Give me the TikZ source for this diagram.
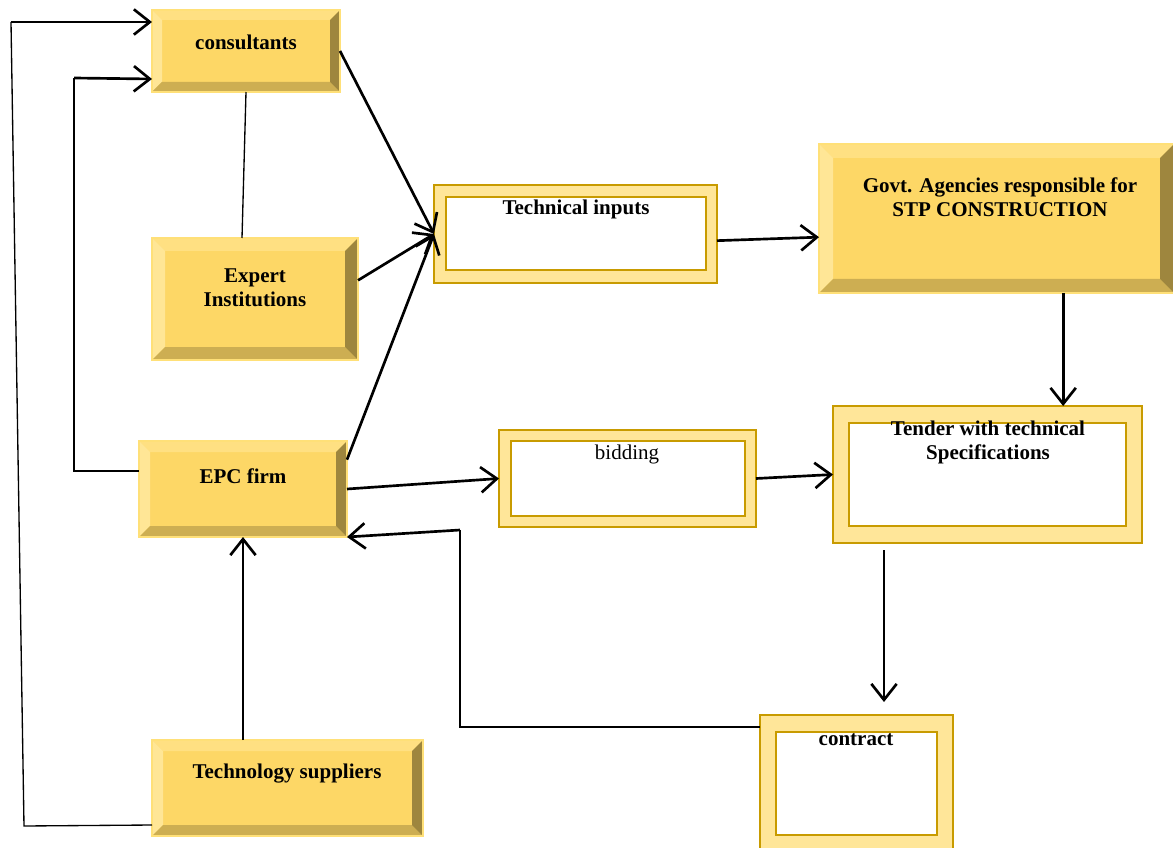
\documentclass[tikz,border=0pt]{standalone}
\usepackage{fontspec}
\setmainfont{Liberation Serif}
\usetikzlibrary{arrows.meta,calc,fit}
\definecolor{gmain}{RGB}{253,215,102}
\definecolor{gtop}{RGB}{255,224,130}
\definecolor{gleft}{RGB}{255,230,150}
\definecolor{gbot}{RGB}{205,174,82}
\definecolor{gright}{RGB}{158,134,62}
\definecolor{gedge}{RGB}{255,224,120}
\definecolor{dfill}{RGB}{255,230,153}
\definecolor{dline}{RGB}{200,155,0}
\newcommand{\mybevel}[6]{%
  \fill[gmain] (#2,#3) rectangle (#4,#5);
  \fill[gtop] (#2,#3) -- (#4,#3) -- ({#4-#6},{#3+#6}) -- ({#2+#6},{#3+#6}) -- cycle;
  \fill[gleft] (#2,#3) -- ({#2+#6},{#3+#6}) -- ({#2+#6},{#5-#6}) -- (#2,#5) -- cycle;
  \fill[gbot] (#2,#5) -- ({#2+#6},{#5-#6}) -- ({#4-#6},{#5-#6}) -- (#4,#5) -- cycle;
  \fill[gright] (#4,#3) -- (#4,#5) -- ({#4-#6},{#5-#6}) -- ({#4-#6},{#3+#6}) -- cycle;
  \draw[gedge, line width=1.5pt] (#2,#3) rectangle (#4,#5);
  \node[fit={(#2,#3)(#4,#5)}, inner sep=0pt, outer sep=0pt] (#1) {};
}
\newcommand{\mydbl}[9]{%
  \draw[dline, fill=dfill, line width=1.5pt] (#2,#3) rectangle (#4,#5);
  \draw[dline, fill=white, line width=1.5pt] (#6,#7) rectangle (#8,#9);
  \node[fit={(#2,#3)(#4,#5)}, inner sep=0pt, outer sep=0pt] (#1) {};
}
\tikzset{
  conn/.style={line width=2pt, -{Straight Barb[length=12pt,width=19pt]}},
  thinline/.style={line width=1pt},
  lbl/.style={font=\fontsize{15.75}{18}\selectfont\bfseries, align=center, inner sep=0pt},
  plbl/.style={font=\fontsize{15.75}{18}\selectfont, align=center, inner sep=0pt}
}
\begin{document}
\begin{tikzpicture}[x=0.75pt,y=-0.75pt]
\useasboundingbox (0,0) rectangle (1173,848);
% bevel boxes
\mybevel{cons}{152}{10}{340}{92}{10}
\mybevel{exp}{152}{238}{358}{360}{13}
\mybevel{epc}{139}{441}{347}{537}{11}
\mybevel{tech}{152}{740}{423}{836}{11}
\mybevel{govt}{819}{144}{1174}{293}{14}
% double boxes
\mydbl{ti}{434}{185}{717}{283}{446}{197}{706}{270}
\mydbl{bid}{499}{430}{756}{527}{511}{441}{745}{516}
\mydbl{tender}{833}{406}{1142}{543}{849}{423}{1126}{526}
\mydbl{contr}{760}{715}{953}{870}{776}{732}{937}{835}
% texts
\node[lbl] (tcons) at (246,42) {consultants};
\node[lbl] (texp) at (255,288) {Expert\\Institutions};
\node[lbl] (tepc) at (243,476) {EPC firm};
\node[lbl] (ttech) at (287,774) {Technology suppliers};
\node[lbl] (tti) at (576,209) {Technical inputs};
\node[lbl] (tgovt) at (1000,197) {Govt. Agencies responsible for\\STP CONSTRUCTION};
\node[plbl] (tbid) at (627,454) {bidding};
\node[lbl] (ttender) at (988,442) {Tender with technical\\Specifications};
\node[lbl] (tcontr) at (856,740) {contract};
% coordinates
\coordinate (bl1) at (24,826);
\coordinate (tl1) at (11,22);
\coordinate (bl2) at (74,471);
\coordinate (tl2) at (74,78);
\coordinate (tb1) at (884,550);
\coordinate (tb2) at (884,702);
\coordinate (cr1) at (460,727);
\coordinate (cr2) at (460,530);
% connectors
\draw[thinline] ([yshift=-27.75pt]tech.west) -- (bl1) -- (tl1);
\draw[conn] (tl1) -- ([yshift=21.75pt]cons.west);
\draw[thinline] ([yshift=13.5pt]epc.west) -- (bl2) -- (tl2);
\draw[conn] (tl2) -- ([yshift=-21pt]cons.west);
\draw[thinline] (cons.south) -- ([xshift=-9.75pt]exp.north);
\draw[conn] (cons.east) -- (ti.west);
\draw[conn] ([yshift=14pt]exp.east) -- (ti.west);
\draw[conn] ([yshift=22pt]epc.east) -- (ti.west);
\draw[conn] ([yshift=-5pt]ti.east) -- ([yshift=-14pt]govt.west);
\draw[conn] ([xshift=50pt]govt.south) -- ([xshift=50pt]govt.south |- tender.north);
\draw[conn] (epc.east) -- (bid.west);
\draw[conn] (bid.east) -- (tender.west);
\draw[conn] (tb1) -- (tb2);
\draw[thinline] (cr1 -| contr.west) -- (cr1) -- (cr2);
\draw[conn] (cr2) -- (epc.south east);
\draw[conn] (epc.south |- tech.north) -- (epc.south);
\end{tikzpicture}
\end{document}
